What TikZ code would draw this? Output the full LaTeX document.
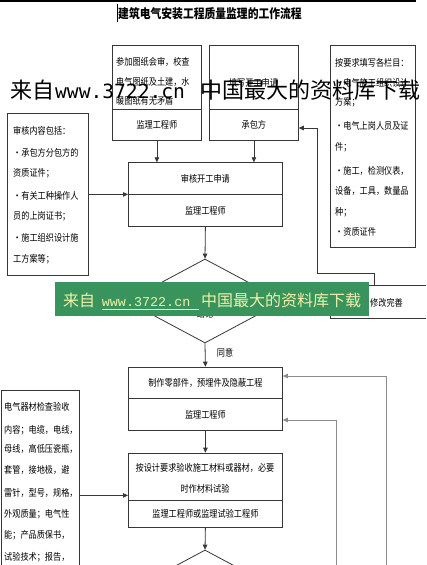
\documentclass[tikz,border=0pt]{standalone}
\usepackage{fontspec}
\setmainfont{Noto Sans CJK SC}
\newfontfamily\bodyf[FakeStretch=0.85]{Noto Sans CJK SC}
\newfontfamily\monoA{DejaVu Sans Mono}
\newfontfamily\monoB{Liberation Mono}
\usetikzlibrary{shapes.geometric,arrows.meta}
\definecolor{lc}{RGB}{55,55,55}
\definecolor{gl}{RGB}{140,140,140}
\definecolor{bannergreen}{RGB}{56,148,92}
\definecolor{bannertext}{RGB}{240,240,170}
\tikzset{
  bx/.style={draw=lc, line width=0.8pt, inner sep=0pt, anchor=north west},
  tl/.style={inner sep=0pt, anchor=west, font=\bodyf\fontsize{9.6}{11}\selectfont},
  tc/.style={inner sep=0pt, font=\bodyf\fontsize{9.6}{11}\selectfont},
  arr/.style={draw=lc, line width=0.8pt, -{Triangle[length=5pt,width=4.5pt]}},
  garr/.style={draw=gl, line width=0.8pt, -{Triangle[length=5pt,width=4.5pt]}},
  dia/.style={draw=lc, line width=0.8pt, shape=diamond, inner sep=0pt, minimum width=157pt, minimum height=84pt},
}
\begin{document}
\begin{tikzpicture}[x=1pt,y=-1pt]
\useasboundingbox (0,0) rectangle (426,565);
\clip (0,0) rectangle (426,565);
\fill[white] (0,0) rectangle (426,565);
\draw[line width=1.5pt] (0,1) -- (416,1);
\draw[line width=0.6pt] (117,4) -- (117,22);
\node[inner sep=0pt, font=\bodyf\fontsize{12.7}{14}\selectfont\bfseries] (title) at (210,13.5) {建筑电气安装工程质量监理的工作流程};

% Box A
\node[bx, minimum width=89pt, minimum height=64.3pt] (Atop) at (112,44.7) {};
\node[bx, minimum width=89pt, minimum height=31pt] (Abot) at (112,109) {};
\node[tl] (a1) at (116,62) {参加图纸会审，校查};
\node[tl] (a2) at (116,82) {电气图纸及土建，水};
\node[tl] (a3) at (116,101) {暖图纸有无矛盾};
\node[tc] (a4) at (Abot.center) {监理工程师};

% Box B
\node[bx, minimum width=89pt, minimum height=64.3pt] (Btop) at (209,44.7) {};
\node[bx, minimum width=89pt, minimum height=31pt] (Bbot) at (209,109) {};
\node[tc] (b1) at (253.5,83) {填写开工申请};
\node[tc] (b2) at (Bbot.center) {承包方};

% Box C
\node[bx, minimum width=85pt, minimum height=202pt] (Cbox) at (330,44.7) {};
\node[tl] (c1) at (335,63) {按要求填写各栏目：};
\node[tl] (c2) at (335,83) {・电气施工组织设计};
\node[tl] (c3) at (335,102) {方案；};
\node[tl] (c4) at (335,126) {・电气上岗人员及证};
\node[tl] (c5) at (335,147) {件；};
\node[tl] (c6) at (335,171) {・施工，检测仪表，};
\node[tl] (c7) at (335,191) {设备，工具，数量品};
\node[tl] (c8) at (335,212) {种；};
\node[tl] (c9) at (335,232) {・资质证件};

% Box D
\node[bx, minimum width=81.3pt, minimum height=162pt] (Dbox) at (6.7,113) {};
\node[tl] (d1) at (13,130.7) {审核内容包括：};
\node[tl] (d2) at (13,152.7) {・承包方分包方的};
\node[tl] (d3) at (13,173) {资质证件；};
\node[tl] (d4) at (13,196) {・有关工种操作人};
\node[tl] (d5) at (13,216.7) {员的上岗证书；};
\node[tl] (d6) at (13,238) {・施工组织设计施};
\node[tl] (d7) at (13,259) {工方案等；};

% Box E
\node[bx, minimum width=154pt, minimum height=31.7pt] (Etop) at (128,162.3) {};
\node[bx, minimum width=154pt, minimum height=32pt] (Ebot) at (128,194) {};
\node[tc] (e1) at (Etop.center) {审核开工申请};
\node[tc] (e2) at (Ebot.center) {监理工程师};

\draw[arr] (Abot.south) -- (Abot.south |- Etop.north);
\draw[arr] (Bbot.south) -- (Bbot.south |- Etop.north);
\draw[arr] (Dbox.east) -- (Dbox.east -| Etop.west);

% Diamond 1
\node[dia] (D1) at (205,301) {};
\node[tc] (d1t) at (205,314) {结论};
\draw[arr] (Ebot.south) -- (D1.north);

% Box M
\node[bx, minimum width=100pt, minimum height=33pt] (M) at (330,285) {};
\node[tc] (m1) at (386.5,302.7) {修改完善};
\draw[arr] (D1.east) -- (D1.east -| M.west);
\coordinate (fbx) at (317,128);
\draw[arr] ([xshift=44pt]M.north west) -- ++(0,-12) -| (fbx) -- (fbx -| Bbot.east);

% Box F
\node[bx, minimum width=154pt, minimum height=31.3pt] (Ftop) at (128,366.7) {};
\node[bx, minimum width=154pt, minimum height=32pt] (Fbot) at (128,398) {};
\node[tc] (f1) at (Ftop.center) {制作零部件，预埋件及隐蔽工程};
\node[tc] (f2) at (Fbot.center) {监理工程师};
\draw[arr] (D1.south) -- (Ftop.north);
\node[tc] (ty) at (225,353) {同意};

% Box G
\node[bx, minimum width=154pt, minimum height=47.3pt] (Gtop) at (128,452.7) {};
\node[bx, minimum width=154pt, minimum height=26.7pt] (Gbot) at (128,500) {};
\node[tc] (g1) at (205,468) {按设计要求验收施工材料或器材，必要};
\node[tc] (g2) at (205,489) {时作材料试验};
\node[tc] (g3) at (Gbot.center) {监理工程师或监理试验工程师};
\draw[arr] (Fbot.south) -- (Gtop.north);

% Diamond 2
\node[dia] (D2) at (205,592) {};
\draw[arr] (Gbot.south) -- (D2.north);

% Box H
\node[bx, minimum width=78.3pt, minimum height=210pt] (H) at (1,390) {};
\node[tl] (h1) at (4,406.7) {电气器材检查验收};
\node[tl] (h2) at (4,430) {内容；电缆，电线，};
\node[tl] (h3) at (4,449) {母线，高低压瓷瓶，};
\node[tl] (h4) at (4,470) {套管，接地极，避};
\node[tl] (h5) at (4,493) {雷针，型号，规格，};
\node[tl] (h6) at (4,514) {外观质量；电气性};
\node[tl] (h7) at (4,535) {能；产品质保书，};
\node[tl] (h8) at (4,556.7) {试验技术；报告，};
\draw[arr] (H.east) -- (H.east -| Gtop.west);

% gray return lines
\coordinate (gA) at (386.7,376);
\coordinate (gAb) at (386.7,600);
\coordinate (gB) at (336.7,420);
\coordinate (gBb) at (336.7,600);
\draw[garr] (gAb) -- (gA) -- (gA -| Ftop.east);
\draw[garr] (gBb) -- (gB) -- (gB -| Fbot.east);

% watermark black
\node[inner sep=0pt, anchor=base west, font=\fontsize{22}{24}\selectfont] (w1) at (10,98) {来自};
\node[inner sep=0pt, anchor=base west, font=\monoA\fontsize{19.6}{22}\selectfont] (w2) at (55,98) {www.3722.cn};
\node[inner sep=0pt, anchor=base west, font=\fontsize{22}{24}\selectfont] (w3) at (200,98) {中国最大的资料库下载};

% green banner
\node[fill=bannergreen, inner sep=0pt, anchor=north west, minimum width=314pt, minimum height=34pt] (ban) at (55,282) {};
\node[inner sep=0pt, anchor=base west, text=bannertext, font=\fontsize{16}{18}\selectfont] (bt1) at (63,306) {来自};
\node[inner sep=0pt, anchor=base west, text=bannertext, font=\monoB\fontsize{13.4}{16}\selectfont] (bt2) at (101.7,306) {www.3722.cn};
\node[inner sep=0pt, anchor=base west, text=bannertext, font=\fontsize{16}{18}\selectfont] (bt3) at (201,306) {中国最大的资料库下载};
\draw[bannertext, line width=0.9pt] (101.7,309.3) -- (199.3,309.3);
\end{tikzpicture}
\end{document}
